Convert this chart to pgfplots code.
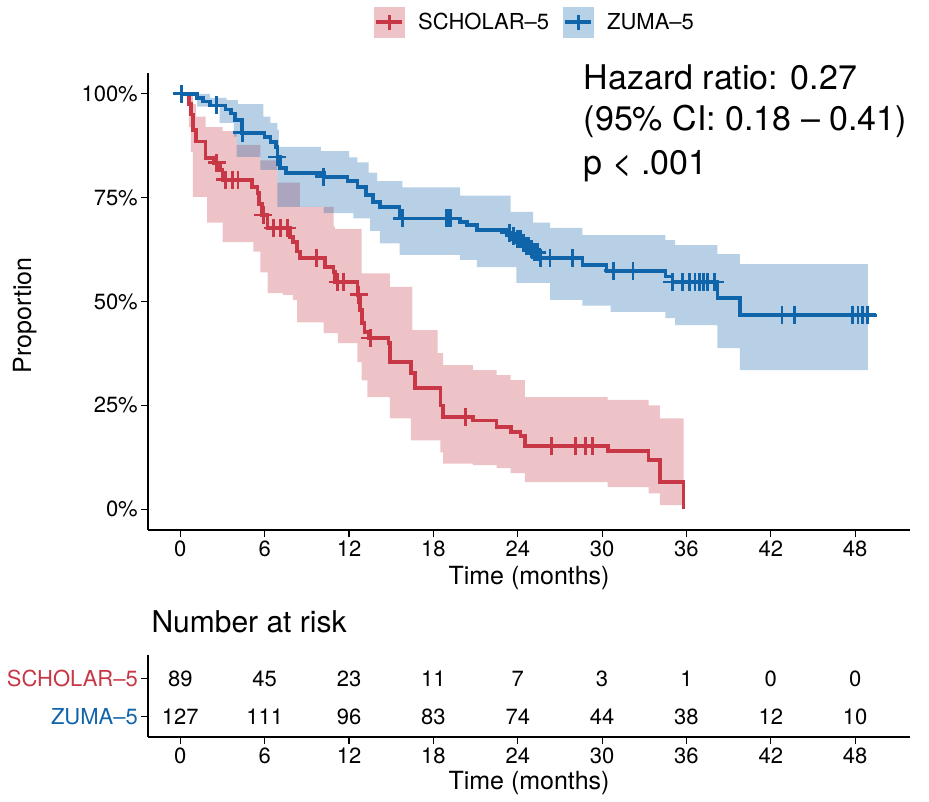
\documentclass[border=0pt]{standalone}
\usepackage{pgfplots}
\pgfplotsset{compat=1.18}
\usepgfplotslibrary{fillbetween}
\usepackage{pgfplotstable}
\usepackage{fontspec}
\setmainfont{TeX Gyre Heros}
\definecolor{scholar}{RGB}{200,55,70}
\definecolor{zuma}{RGB}{15,100,170}

\pgfplotstableread{
t s
0 1.000
0.6 0.975
0.75 0.950
0.9 0.913
1.1 0.885
1.8 0.846
2.4 0.834
2.8 0.817
3.0 0.793
5.1 0.776
5.5 0.761
5.6 0.735
5.8 0.708
6.2 0.677
7.8 0.655
8.0 0.643
8.3 0.620
8.5 0.605
10.3 0.583
10.9 0.571
11.0 0.547
12.6 0.516
12.8 0.480
12.9 0.448
13.1 0.427
13.4 0.412
14.8 0.400
14.9 0.354
16.4 0.328
16.7 0.292
18.5 0.250
18.7 0.222
20.8 0.214
22.5 0.198
23.5 0.186
24.2 0.176
24.5 0.152
30.4 0.140
33.3 0.118
34.1 0.065
35.8 0.000
}\scholarline

\pgfplotstableread{
t s
2.6 0.834
3.2 0.793
3.7 0.793
4.1 0.793
5.9 0.708
6.6 0.677
7.1 0.677
7.6 0.677
9.7 0.605
11.2 0.547
11.6 0.547
12.7 0.516
13.5 0.412
20.3 0.222
26.4 0.152
28.1 0.152
28.8 0.152
29.3 0.152
}\scholarcens

\pgfplotstableread{
t s
0 1.000
0.9 0.975
1.1 0.945
1.8 0.920
3.0 0.910
4.0 0.877
5.7 0.840
6.9 0.786
8.5 0.728
10.9 0.680
11.0 0.675
12.9 0.568
14.9 0.535
16.5 0.431
18.3 0.376
18.7 0.347
20.8 0.335
22.5 0.323
23.5 0.311
24.5 0.270
30.4 0.263
33.3 0.250
34.1 0.219
35.8 0.219
}\scholarupper

\pgfplotstableread{
t s
0 1.000
0.6 0.920
0.75 0.860
0.9 0.752
1.9 0.690
3.0 0.643
5.2 0.620
5.7 0.570
6.2 0.520
7.3 0.516
8.0 0.504
8.3 0.450
10.2 0.424
11.2 0.400
12.6 0.354
12.9 0.310
13.3 0.270
14.9 0.219
16.4 0.166
18.5 0.137
18.7 0.110
20.8 0.106
22.5 0.099
23.5 0.087
24.5 0.065
30.4 0.053
33.3 0.038
34.1 0.010
35.8 0.010
}\scholarlower

\pgfplotstableread{
t s
0 1.000
1.2 0.990
1.6 0.981
2.1 0.972
3.2 0.962
3.6 0.953
3.9 0.937
4.4 0.906
6.0 0.896
6.4 0.884
6.8 0.872
6.9 0.848
7.1 0.822
7.5 0.810
10.2 0.800
11.9 0.790
12.6 0.776
13.2 0.757
13.7 0.740
14.2 0.727
15.6 0.700
19.9 0.692
20.4 0.684
21.1 0.672
23.3 0.665
23.6 0.658
24.0 0.650
24.3 0.642
24.6 0.634
24.9 0.626
25.2 0.618
25.5 0.605
28.6 0.588
30.3 0.574
34.5 0.560
35.0 0.547
38.2 0.508
39.8 0.467
49.5 0.467
}\zumaline

\pgfplotstableread{
t s
0.1 1.000
2.6 0.972
4.4 0.906
6.9 0.848
10.2 0.800
15.8 0.700
18.9 0.700
19.0 0.700
19.1 0.700
19.2 0.700
23.4 0.665
23.7 0.658
24.0 0.650
24.2 0.650
24.4 0.642
24.6 0.634
24.8 0.634
25.0 0.626
25.2 0.618
25.4 0.618
25.6 0.605
26.3 0.605
27.9 0.605
30.8 0.574
32.2 0.574
35.0 0.547
35.7 0.547
36.2 0.547
36.6 0.547
36.9 0.547
37.2 0.547
37.5 0.547
38.0 0.547
42.8 0.467
43.7 0.467
47.8 0.467
48.2 0.467
48.5 0.467
48.9 0.467
}\zumacens

\pgfplotstableread{
t s
0 1.000
2.1 0.990
3.3 0.985
4.1 0.975
5.9 0.945
6.4 0.930
6.9 0.913
7.0 0.872
10.0 0.862
12.0 0.847
12.6 0.835
13.4 0.810
14.0 0.790
15.8 0.775
19.9 0.755
23.5 0.716
25.1 0.690
26.3 0.677
28.6 0.660
34.5 0.648
35.2 0.636
38.2 0.614
39.8 0.590
48.9 0.590
}\zumaupper

\pgfplotstableread{
t s
0 1.000
1.2 0.969
2.8 0.930
3.8 0.897
4.0 0.848
5.7 0.817
6.9 0.728
10.2 0.713
12.3 0.700
13.5 0.670
14.2 0.640
15.6 0.612
19.9 0.600
21.1 0.583
23.9 0.545
26.3 0.504
28.6 0.490
30.6 0.475
34.5 0.460
35.2 0.443
38.2 0.388
39.8 0.335
48.9 0.335
}\zumalower

\pgfplotstableread{
t y n
0 2 89
6 2 45
12 2 23
18 2 11
24 2 7
30 2 3
36 2 1
42 2 0
48 2 0
0 1 127
6 1 111
12 1 96
18 1 83
24 1 74
30 1 44
36 1 38
42 1 12
48 1 10
}\risk

\begin{document}
\begin{tikzpicture}
\begin{axis}[
  at={(148pt,-530pt)}, anchor=south west,
  scale only axis, width=762pt, height=457pt,
  xmin=-2.3, xmax=51.9, ymin=-0.05, ymax=1.05,
  axis lines=left, axis line style={-, line width=1.1pt},
  tick align=outside, major tick length=7pt,
  tick style={line width=1.1pt, black},
  xtick={0,6,...,48}, xticklabels={0,6,12,18,24,30,36,42,48},
  ytick={0,0.25,0.5,0.75,1}, yticklabels={0\%,25\%,50\%,75\%,100\%},
  ticklabel style={font=\fontsize{22}{22}\selectfont},
  yticklabel style={inner sep=3pt},
  xticklabel style={inner sep=4pt},
  xlabel={Time (months)}, ylabel={Proportion},
  label style={font=\fontsize{25}{25}\selectfont},
  xlabel style={at={(axis description cs:0.5,0)}, anchor=base, yshift=-54pt},
  ylabel style={at={(axis description cs:-0.1535,0.47)}, anchor=base},
  clip=false,
  legend columns=2,
  legend style={at={(axis description cs:0.5066,1)}, anchor=center, yshift=51pt,
    draw=none, fill=none, font=\fontsize{22}{22}\selectfont,
    nodes={inner sep=0pt, draw=none},
    /tikz/every odd column/.append style={column sep=13pt},
    /tikz/every even column/.append style={column sep=14pt}},
]
\addlegendimage{legend image code/.code={
  \path[fill=scholar!30!white, draw=none] (0pt,-15.5pt) rectangle (31pt,15.5pt);
  \draw[scholar, line width=3.6pt] (2pt,0pt) -- (28pt,0pt);
  \draw[scholar, line width=3pt] (15.5pt,-7.5pt) -- (15.5pt,7.5pt);
}}
\addlegendimage{legend image code/.code={
  \path[fill=zuma!30!white, draw=none] (0pt,-15.5pt) rectangle (31pt,15.5pt);
  \draw[zuma, line width=3.6pt] (2pt,0pt) -- (28pt,0pt);
  \draw[zuma, line width=3pt] (15.5pt,-7.5pt) -- (15.5pt,7.5pt);
}}
\addlegendentry{SCHOLAR–5}
\addlegendentry{ZUMA–5}

\addplot[name path=ru, draw=none, const plot, forget plot] table {\scholarupper};
\addplot[name path=rl, draw=none, const plot, forget plot] table {\scholarlower};
\addplot[name path=zu, draw=none, const plot, forget plot] table {\zumaupper};
\addplot[name path=zl, draw=none, const plot, forget plot] table {\zumalower};
\addplot[fill=scholar, fill opacity=0.3, draw=none, forget plot] fill between[of=ru and rl];
\addplot[fill=zuma, fill opacity=0.3, draw=none, forget plot] fill between[of=zu and zl];

\addplot[scholar, line width=3.6pt, const plot, forget plot] table {\scholarline};
\addplot[zuma, line width=3.6pt, const plot, forget plot] table {\zumaline};
\addplot[scholar, only marks, mark=+, mark size=9pt, mark options={line width=2.8pt}, forget plot] table {\scholarcens};
\addplot[zuma, only marks, mark=+, mark size=9pt, mark options={line width=2.8pt}, forget plot] table {\zumacens};

\node[anchor=base west, font=\fontsize{34}{34}\selectfont] at (axis cs:28.45,1.0096) {Hazard ratio: 0.27};
\node[anchor=base west, font=\fontsize{34}{34}\selectfont] at (axis cs:28.45,0.911) {(95\% CI: 0.18 – 0.41)};
\node[anchor=base west, font=\fontsize{34}{34}\selectfont] at (axis cs:28.45,0.805) {p < .001};
\end{axis}

\begin{axis}[
  at={(148pt,-737pt)}, anchor=south west,
  scale only axis, width=762pt, height=82pt,
  xmin=-2.3, xmax=51.9, ymin=0.47, ymax=2.63,
  axis lines=left, axis line style={-, line width=1.1pt},
  tick align=outside, major tick length=7pt,
  tick style={line width=1.1pt, black},
  xtick={0,6,...,48}, xticklabels={0,6,12,18,24,30,36,42,48},
  ytick={1,2}, yticklabels={{\color{zuma}ZUMA–5},{\color{scholar}SCHOLAR–5}},
  ticklabel style={font=\fontsize{22}{22}\selectfont},
  yticklabel style={inner sep=3pt},
  xticklabel style={inner sep=4pt},
  xlabel={Time (months)},
  xlabel style={font=\fontsize{25}{25}\selectfont, at={(axis description cs:0.5,0)}, anchor=base, yshift=-52pt},
  title={Number at risk},
  title style={at={(axis description cs:0,1)}, anchor=base west, yshift=17pt, font=\fontsize{30}{30}\selectfont},
  clip=false,
]
\addplot[draw=none, mark=none, nodes near coords,
  point meta=explicit symbolic,
  every node near coord/.append style={font=\fontsize{22}{22}\selectfont, black, inner sep=0pt, anchor=center}]
  table[x=t, y=y, meta=n] {\risk};
\end{axis}
\useasboundingbox (0pt,0pt) rectangle (929pt,-801pt);
\end{tikzpicture}
\end{document}
